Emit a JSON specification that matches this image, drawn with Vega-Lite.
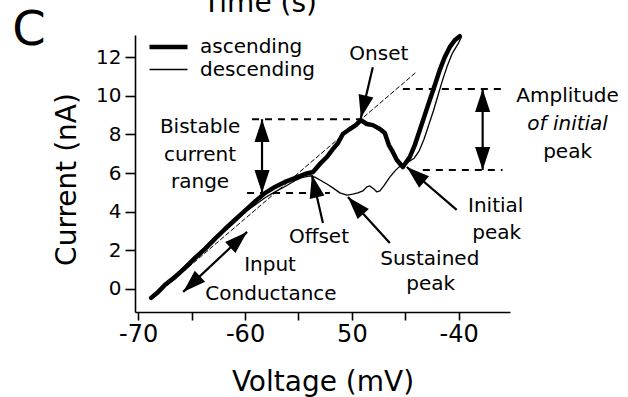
{
  "$schema": "https://vega.github.io/schema/vega-lite/v6.json",
  "width": 375,
  "height": 277,
  "autosize": {"type": "none"},
  "padding": {"left": 135, "top": 35, "right": 118, "bottom": 85},
  "background": "white",
  "config": {
    "font": "DejaVu Sans",
    "view": {"stroke": null},
    "axis": {"grid": false, "domainColor": "black", "domainWidth": 1.6, "tickColor": "black", "tickWidth": 1.6, "labelColor": "black", "titleColor": "black", "titleFontWeight": "normal", "labelFont": "DejaVu Sans", "titleFont": "DejaVu Sans"}
  },
  "datasets": {
    "curves": [
      {"v": -68.79, "i": -0.47, "series": "ascending", "k": 1},
      {"v": -68.13, "i": -0.16, "series": "ascending", "k": 2},
      {"v": -67.48, "i": 0.21, "series": "ascending", "k": 3},
      {"v": -66.54, "i": 0.62, "series": "ascending", "k": 4},
      {"v": -65.61, "i": 1.09, "series": "ascending", "k": 5},
      {"v": -64.67, "i": 1.6, "series": "ascending", "k": 6},
      {"v": -63.74, "i": 2.07, "series": "ascending", "k": 7},
      {"v": -62.8, "i": 2.6, "series": "ascending", "k": 8},
      {"v": -61.87, "i": 3.1, "series": "ascending", "k": 9},
      {"v": -60.93, "i": 3.58, "series": "ascending", "k": 10},
      {"v": -60.0, "i": 4.05, "series": "ascending", "k": 11},
      {"v": -59.07, "i": 4.52, "series": "ascending", "k": 12},
      {"v": -58.13, "i": 4.96, "series": "ascending", "k": 13},
      {"v": -57.2, "i": 5.28, "series": "ascending", "k": 14},
      {"v": -56.26, "i": 5.54, "series": "ascending", "k": 15},
      {"v": -55.33, "i": 5.74, "series": "ascending", "k": 16},
      {"v": -54.39, "i": 5.95, "series": "ascending", "k": 17},
      {"v": -53.64, "i": 6.05, "series": "ascending", "k": 18},
      {"v": -52.99, "i": 6.47, "series": "ascending", "k": 19},
      {"v": -52.34, "i": 6.83, "series": "ascending", "k": 20},
      {"v": -51.78, "i": 7.24, "series": "ascending", "k": 21},
      {"v": -51.31, "i": 7.55, "series": "ascending", "k": 22},
      {"v": -50.84, "i": 8.02, "series": "ascending", "k": 23},
      {"v": -50.19, "i": 8.28, "series": "ascending", "k": 24},
      {"v": -49.63, "i": 8.48, "series": "ascending", "k": 25},
      {"v": -49.16, "i": 8.74, "series": "ascending", "k": 26},
      {"v": -48.6, "i": 8.54, "series": "ascending", "k": 27},
      {"v": -48.04, "i": 8.48, "series": "ascending", "k": 28},
      {"v": -47.38, "i": 8.28, "series": "ascending", "k": 29},
      {"v": -46.92, "i": 8.07, "series": "ascending", "k": 30},
      {"v": -46.54, "i": 7.45, "series": "ascending", "k": 31},
      {"v": -46.17, "i": 7.09, "series": "ascending", "k": 32},
      {"v": -45.79, "i": 6.67, "series": "ascending", "k": 33},
      {"v": -45.23, "i": 6.31, "series": "ascending", "k": 34},
      {"v": -44.58, "i": 6.83, "series": "ascending", "k": 35},
      {"v": -44.11, "i": 7.45, "series": "ascending", "k": 36},
      {"v": -43.64, "i": 8.23, "series": "ascending", "k": 37},
      {"v": -43.18, "i": 9.0, "series": "ascending", "k": 38},
      {"v": -42.71, "i": 9.78, "series": "ascending", "k": 39},
      {"v": -42.24, "i": 10.55, "series": "ascending", "k": 40},
      {"v": -41.78, "i": 11.33, "series": "ascending", "k": 41},
      {"v": -41.31, "i": 12.0, "series": "ascending", "k": 42},
      {"v": -40.84, "i": 12.52, "series": "ascending", "k": 43},
      {"v": -40.37, "i": 12.88, "series": "ascending", "k": 44},
      {"v": -39.91, "i": 13.09, "series": "ascending", "k": 45},
      {"v": -39.75, "i": 13.05, "series": "descending", "k": 1},
      {"v": -40.05, "i": 12.7, "series": "descending", "k": 2},
      {"v": -40.6, "i": 12.2, "series": "descending", "k": 3},
      {"v": -41.1, "i": 11.5, "series": "descending", "k": 4},
      {"v": -41.55, "i": 10.75, "series": "descending", "k": 5},
      {"v": -41.95, "i": 10.0, "series": "descending", "k": 6},
      {"v": -42.35, "i": 9.25, "series": "descending", "k": 7},
      {"v": -42.8, "i": 8.5, "series": "descending", "k": 8},
      {"v": -43.25, "i": 7.75, "series": "descending", "k": 9},
      {"v": -43.7, "i": 7.15, "series": "descending", "k": 10},
      {"v": -44.2, "i": 6.75, "series": "descending", "k": 11},
      {"v": -44.8, "i": 6.55, "series": "descending", "k": 12},
      {"v": -45.4, "i": 6.4, "series": "descending", "k": 13},
      {"v": -45.9, "i": 6.15, "series": "descending", "k": 14},
      {"v": -46.45, "i": 5.79, "series": "descending", "k": 15},
      {"v": -47.01, "i": 5.33, "series": "descending", "k": 16},
      {"v": -47.38, "i": 5.07, "series": "descending", "k": 17},
      {"v": -47.66, "i": 5.02, "series": "descending", "k": 18},
      {"v": -47.94, "i": 5.17, "series": "descending", "k": 19},
      {"v": -48.32, "i": 5.33, "series": "descending", "k": 20},
      {"v": -48.6, "i": 5.28, "series": "descending", "k": 21},
      {"v": -48.97, "i": 5.07, "series": "descending", "k": 22},
      {"v": -49.44, "i": 4.97, "series": "descending", "k": 23},
      {"v": -49.91, "i": 4.91, "series": "descending", "k": 24},
      {"v": -50.47, "i": 4.86, "series": "descending", "k": 25},
      {"v": -51.12, "i": 4.97, "series": "descending", "k": 26},
      {"v": -51.78, "i": 5.23, "series": "descending", "k": 27},
      {"v": -52.34, "i": 5.43, "series": "descending", "k": 28},
      {"v": -52.99, "i": 5.64, "series": "descending", "k": 29},
      {"v": -53.46, "i": 5.79, "series": "descending", "k": 30},
      {"v": -53.93, "i": 5.85, "series": "descending", "k": 31},
      {"v": -54.58, "i": 5.78, "series": "descending", "k": 32},
      {"v": -55.33, "i": 5.6, "series": "descending", "k": 33},
      {"v": -56.26, "i": 5.3, "series": "descending", "k": 34},
      {"v": -57.2, "i": 5.02, "series": "descending", "k": 35},
      {"v": -58.13, "i": 4.72, "series": "descending", "k": 36},
      {"v": -59.07, "i": 4.34, "series": "descending", "k": 37},
      {"v": -60.0, "i": 3.98, "series": "descending", "k": 38},
      {"v": -60.93, "i": 3.58, "series": "descending", "k": 39},
      {"v": -61.87, "i": 3.12, "series": "descending", "k": 40},
      {"v": -62.8, "i": 2.68, "series": "descending", "k": 41},
      {"v": -63.74, "i": 2.17, "series": "descending", "k": 42},
      {"v": -64.67, "i": 1.7, "series": "descending", "k": 43},
      {"v": -65.61, "i": 1.2, "series": "descending", "k": 44},
      {"v": -66.54, "i": 0.72, "series": "descending", "k": 45},
      {"v": -67.48, "i": 0.25, "series": "descending", "k": 46},
      {"v": -68.22, "i": -0.18, "series": "descending", "k": 47}
    ],
    "fit": [
      {"v": -68.3, "i": -0.3},
      {"v": -43.95, "i": 11.24}
    ],
    "guides": [
      {"v1": -59.35, "v2": -49.25, "i": 8.79},
      {"v1": -59.81, "v2": -52.06, "i": 4.97},
      {"v1": -45.23, "v2": -35.9, "i": 10.35},
      {"v1": -43.36, "v2": -35.9, "i": 6.16}
    ],
    "shafts": [
      {"v1": -58.41, "i1": 8.79, "v2": -58.41, "i2": 4.97},
      {"v1": -37.76, "i1": 10.35, "v2": -37.76, "i2": 6.16},
      {"v1": -48.04, "i1": 11.48, "v2": -49.16, "i2": 8.85},
      {"v1": -59.81, "i1": 2.95, "v2": -65.79, "i2": -0.16},
      {"v1": -52.71, "i1": 3.41, "v2": -53.74, "i2": 5.9},
      {"v1": -46.45, "i1": 2.38, "v2": -50.37, "i2": 4.76},
      {"v1": -40.19, "i1": 4.09, "v2": -44.86, "i2": 6.31}
    ],
    "heads": [
      {"v": -58.41, "i": 8.79, "dir": 0},
      {"v": -58.41, "i": 4.97, "dir": 180},
      {"v": -37.76, "i": 10.35, "dir": 0},
      {"v": -37.76, "i": 6.16, "dir": 180},
      {"v": -49.16, "i": 8.85, "dir": 193},
      {"v": -59.81, "i": 2.95, "dir": 47},
      {"v": -65.79, "i": -0.16, "dir": 227},
      {"v": -53.74, "i": 5.9, "dir": 347},
      {"v": -50.37, "i": 4.76, "dir": 318},
      {"v": -44.86, "i": 6.31, "dir": 311}
    ],
    "notes": [
      {"v": -47.48, "i": 11.85, "t": "Onset"},
      {"v": -64.21, "i": 8.07, "t": "Bistable"},
      {"v": -64.21, "i": 6.62, "t": "current"},
      {"v": -64.21, "i": 5.2, "t": "range"},
      {"v": -29.81, "i": 9.67, "t": "Amplitude"},
      {"v": -29.81, "i": 6.78, "t": "peak"},
      {"v": -53.08, "i": 2.38, "t": "Offset"},
      {"v": -57.66, "i": 0.93, "t": "Input"},
      {"v": -57.57, "i": -0.57, "t": "Conductance"},
      {"v": -42.71, "i": 1.24, "t": "Sustained"},
      {"v": -42.62, "i": -0.05, "t": "peak"},
      {"v": -36.54, "i": 3.98, "t": "Initial"},
      {"v": -36.45, "i": 2.59, "t": "peak"}
    ],
    "inotes": [
      {"v": -29.81, "i": 8.23, "t": "of initial"}
    ],
    "heading": [
      {"v": -58.6, "i": 14.34, "t": "Time (s)"}
    ],
    "panel": [
      {"v": -80.23, "i": 12.62, "t": "C"}
    ]
  },
  "layer": [
    {
      "data": {"name": "fit"},
      "mark": {"type": "line", "color": "black", "strokeWidth": 1, "strokeDash": [5, 2]},
      "encoding": {
        "x": {"field": "v", "type": "quantitative", "scale": {"domain": [-70.3, -35.2], "nice": false, "zero": false},
          "axis": {"values": [-70, -65, -60, -55, -50, -45, -40], "labelExpr": "datum.value % 10 !== 0 ? '' : (datum.value == -50 ? '50' : '-' + abs(datum.value))", "labelFontSize": 24, "labelPadding": 2, "tickSize": 8, "encode": {"ticks": {"update": {"y2": {"signal": "datum.value % 10 === 0 ? 9 : 5"}}}}, "title": "Voltage (mV)", "titleFontSize": 28, "titleBaseline": "alphabetic", "titleY": 78, "labelFlush": false}},
        "y": {"field": "i", "type": "quantitative", "scale": {"domain": [-1.2, 13.15], "nice": false, "zero": false},
          "axis": {"values": [0, 2, 4, 6, 8, 10, 12], "labelFontSize": 20, "labelPadding": 4, "tickSize": 10, "title": "Current (nA)", "titleFontSize": 28, "titleAngle": -90, "titleAlign": "center", "titleBaseline": "alphabetic", "titleX": -60, "titleY": 144}}
      }
    },
    {
      "data": {"name": "curves"},
      "mark": {"type": "line", "color": "black", "strokeJoin": "round", "strokeCap": "round"},
      "encoding": {
        "x": {"field": "v", "type": "quantitative"},
        "y": {"field": "i", "type": "quantitative"},
        "order": {"field": "k", "type": "quantitative"},
        "strokeWidth": {"field": "series", "type": "ordinal", "scale": {"domain": ["ascending", "descending"], "range": [4.5, 1.3]},
          "legend": {"orient": "none", "legendX": 12, "legendY": 0, "title": null, "symbolType": "M-1,0L3,0", "symbolSize": 361, "symbolStrokeColor": "black", "symbolFillColor": "transparent", "labelFontSize": 20, "labelFont": "DejaVu Sans", "labelOffset": 29, "labelColor": "black", "rowPadding": 2, "padding": 0}}
      }
    },
    {
      "data": {"name": "guides"},
      "mark": {"type": "rule", "color": "black", "strokeWidth": 2, "strokeDash": [7, 6]},
      "encoding": {
        "x": {"field": "v1", "type": "quantitative"},
        "x2": {"field": "v2"},
        "y": {"field": "i", "type": "quantitative"}
      }
    },
    {
      "data": {"name": "shafts"},
      "mark": {"type": "rule", "color": "black", "strokeWidth": 2.2},
      "encoding": {
        "x": {"field": "v1", "type": "quantitative"},
        "x2": {"field": "v2"},
        "y": {"field": "i1", "type": "quantitative"},
        "y2": {"field": "i2"}
      }
    },
    {
      "data": {"name": "heads"},
      "mark": {"type": "point", "shape": "M0,0L-0.33,1L0.33,1Z", "filled": true, "color": "black", "opacity": 1, "size": 2100, "strokeWidth": 0},
      "encoding": {
        "x": {"field": "v", "type": "quantitative"},
        "y": {"field": "i", "type": "quantitative"},
        "angle": {"field": "dir", "type": "quantitative", "scale": null}
      }
    },
    {
      "data": {"name": "notes"},
      "mark": {"type": "text", "align": "center", "baseline": "alphabetic", "fontSize": 20, "font": "DejaVu Sans", "color": "black"},
      "encoding": {
        "x": {"field": "v", "type": "quantitative"},
        "y": {"field": "i", "type": "quantitative"},
        "text": {"field": "t"}
      }
    },
    {
      "data": {"name": "inotes"},
      "mark": {"type": "text", "align": "center", "baseline": "alphabetic", "fontSize": 20, "font": "DejaVu Sans", "fontStyle": "italic", "color": "black"},
      "encoding": {
        "x": {"field": "v", "type": "quantitative"},
        "y": {"field": "i", "type": "quantitative"},
        "text": {"field": "t"}
      }
    },
    {
      "data": {"name": "heading"},
      "mark": {"type": "text", "align": "center", "baseline": "alphabetic", "fontSize": 28, "font": "DejaVu Sans", "color": "black"},
      "encoding": {
        "x": {"field": "v", "type": "quantitative"},
        "y": {"field": "i", "type": "quantitative"},
        "text": {"field": "t"}
      }
    },
    {
      "data": {"name": "panel"},
      "mark": {"type": "text", "align": "center", "baseline": "alphabetic", "fontSize": 48, "font": "DejaVu Sans", "color": "black"},
      "encoding": {
        "x": {"field": "v", "type": "quantitative"},
        "y": {"field": "i", "type": "quantitative"},
        "text": {"field": "t"}
      }
    }
  ]
}
